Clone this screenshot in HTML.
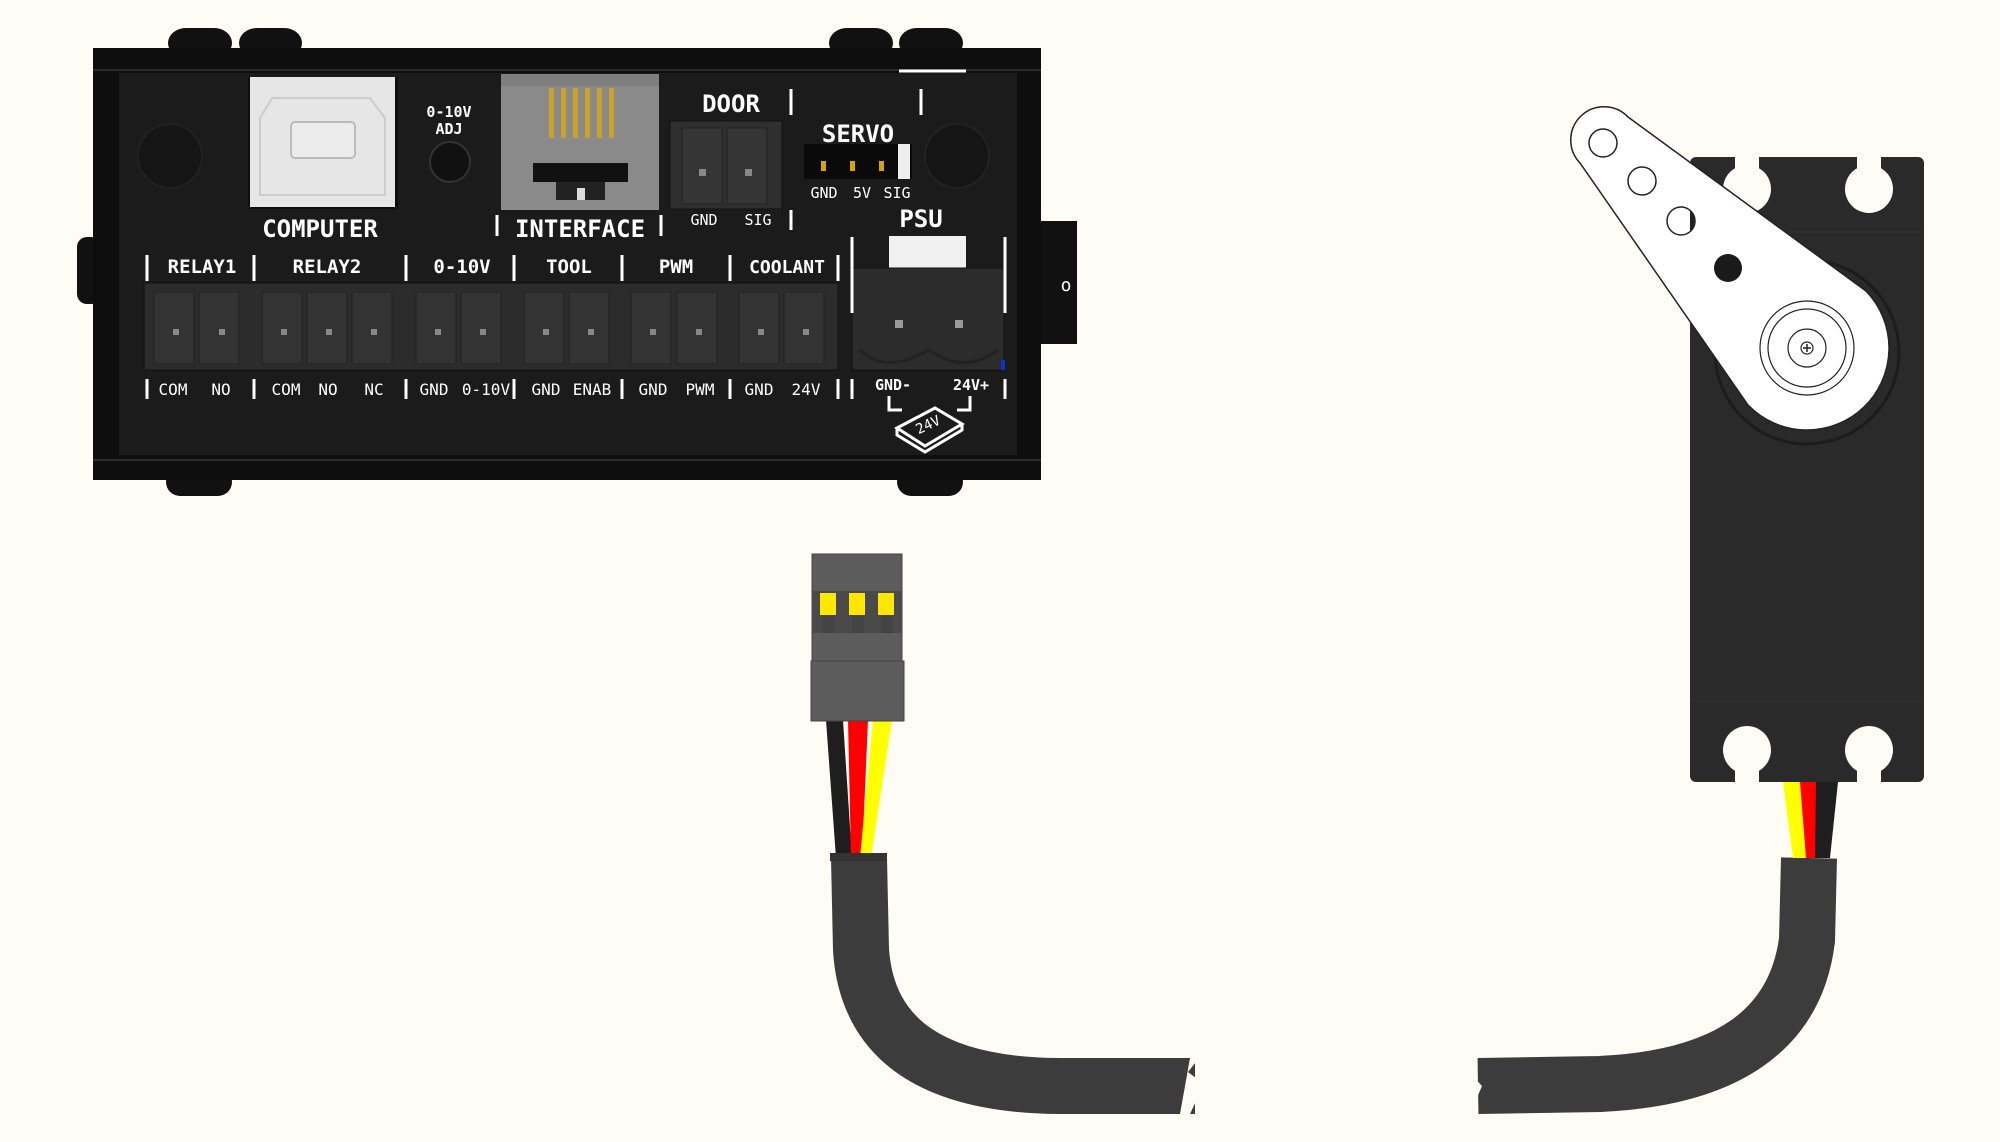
<!DOCTYPE html>
<html><head><meta charset="utf-8"><style>
html,body{margin:0;padding:0;background:#fffcf6;}
svg{display:block}
text{font-family:"DejaVu Sans Mono","Liberation Mono",monospace;fill:#fff;text-anchor:middle;}
</style></head><body>
<svg width="2000" height="1142" viewBox="0 0 2000 1142" xmlns="http://www.w3.org/2000/svg">
<rect width="2000" height="1142" fill="#fffcf6"/>
<g fill="#111">
<rect x="168" y="28" width="64" height="30" rx="18"/><rect x="239" y="28" width="63" height="30" rx="18"/>
<rect x="829" y="28" width="64" height="30" rx="18"/><rect x="899" y="28" width="64" height="30" rx="18"/>
<rect x="166" y="468" width="66" height="28" rx="14"/><rect x="897" y="468" width="66" height="28" rx="14"/>
<rect x="77" y="237" width="24" height="67" rx="10"/>
<rect x="1035" y="221" width="42" height="123"/>
</g>
<text x="1066" y="291" font-size="18">o</text>
<rect x="93" y="48" width="948" height="432" fill="#0e0e0e"/>
<rect x="119" y="73" width="898" height="382" fill="#1b1b1b"/>
<line x1="93" y1="70" x2="1041" y2="70" stroke="#2a2a2a" stroke-width="2"/>
<line x1="93" y1="460" x2="1041" y2="460" stroke="#2a2a2a" stroke-width="2"/>
<circle cx="170" cy="156" r="32" fill="#151515" stroke="#222" stroke-width="2"/>
<circle cx="957" cy="156" r="32" fill="#151515" stroke="#222" stroke-width="2"/>
<line x1="899" y1="71" x2="966" y2="71" stroke="#fff" stroke-width="3"/>
<rect x="248" y="77" width="150" height="132" fill="#0e0e0e"/>
<rect x="250" y="77" width="145" height="130" fill="#e6e6e6"/>
<path d="M272 98 L370 98 L385 118 L385 195 L260 195 L260 118 Z" fill="none" stroke="#ccc" stroke-width="2"/>
<rect x="291" y="122" width="64" height="36" rx="4" fill="#ececec" stroke="#bbb" stroke-width="2"/>
<text x="320" y="237" font-size="24" font-weight="bold">COMPUTER</text>
<text x="449" y="117" font-size="15" font-weight="bold">0-10V</text>
<text x="449" y="134" font-size="15" font-weight="bold">ADJ</text>
<circle cx="450" cy="162" r="20" fill="#111" stroke="#333" stroke-width="2"/>
<rect x="501" y="74" width="158" height="136" fill="#8a8a8a"/>
<rect x="501" y="74" width="158" height="12" fill="#7e7e7e"/>
<g fill="#c9a227"><rect x="549" y="88" width="5" height="50"/><rect x="561" y="88" width="5" height="50"/><rect x="573" y="88" width="5" height="50"/><rect x="585" y="88" width="5" height="50"/><rect x="597" y="88" width="5" height="50"/><rect x="609" y="88" width="5" height="50"/></g>
<rect x="533" y="163" width="95" height="19" fill="#111"/>
<rect x="556" y="182" width="49" height="18" fill="#222"/>
<rect x="577" y="188" width="8" height="12" fill="#ddd"/>
<text x="580" y="237" font-size="24" font-weight="bold">INTERFACE</text>
<g stroke="#fff" stroke-width="3"><line x1="497" y1="215" x2="497" y2="236"/><line x1="661" y1="215" x2="661" y2="236"/></g>
<text x="731" y="112" font-size="24" font-weight="bold">DOOR</text>
<rect x="670" y="121" width="112" height="88" fill="#2f2f2f" stroke="#111"/>
<rect x="682" y="128" width="40" height="76" fill="#353535" stroke="#222"/><rect x="727" y="128" width="40" height="76" fill="#353535" stroke="#222"/>
<rect x="699" y="169" width="7" height="7" fill="#888"/><rect x="745" y="169" width="7" height="7" fill="#888"/>
<text x="704" y="225" font-size="15">GND</text><text x="758" y="225" font-size="15">SIG</text>
<g stroke="#fff" stroke-width="3"><line x1="791" y1="89" x2="791" y2="115"/><line x1="791" y1="210" x2="791" y2="230"/><line x1="921" y1="89" x2="921" y2="115"/></g>
<text x="858" y="142" font-size="24" font-weight="bold">SERVO</text>
<rect x="804" y="144" width="108" height="35" fill="#0a0a0a"/>
<rect x="898" y="144" width="12" height="35" fill="#eee"/>
<g fill="#d9a400"><rect x="821" y="161" width="5" height="10"/><rect x="850" y="161" width="5" height="10"/><rect x="879" y="161" width="5" height="10"/></g>
<text x="824" y="198" font-size="15">GND</text><text x="862" y="198" font-size="15">5V</text><text x="897" y="198" font-size="15">SIG</text>
<text x="921" y="227" font-size="24" font-weight="bold">PSU</text>
<rect x="889" y="236" width="77" height="32" fill="#f0f0f0"/>
<rect x="852" y="268" width="152" height="102" fill="#2c2c2c" stroke="#111"/>
<path d="M860 350 Q885 375 929 350 Q965 375 998 350" fill="none" stroke="#222" stroke-width="3"/>
<rect x="895" y="320" width="8" height="8" fill="#999"/><rect x="955" y="320" width="8" height="8" fill="#999"/>
<rect x="1001" y="360" width="4" height="10" fill="#1030d0"/>
<g stroke="#fff" stroke-width="3"><line x1="852" y1="237" x2="852" y2="313"/><line x1="1005" y1="237" x2="1005" y2="313"/><line x1="852" y1="379" x2="852" y2="399"/><line x1="1005" y1="379" x2="1005" y2="399"/></g>
<text x="893" y="390" font-size="15" font-weight="bold">GND-</text><text x="971" y="390" font-size="15" font-weight="bold">24V+</text>
<g stroke="#fff" stroke-width="3" fill="none"><path d="M889 396 V410 H902"/><path d="M970 396 V410 H957"/>
<path d="M897 428 L935 408 L962 424 L925 446 Z"/><path d="M897 428 V435 L925 452 L962 430 V424"/></g>
<text x="930" y="429" font-size="14" transform="rotate(-25 930 429)">24V</text>
<rect x="144" y="283" width="694" height="87" fill="#2c2c2c" stroke="#111"/>
<g fill="#333" stroke="#222">
<rect x="154" y="292" width="40" height="72"/><rect x="199" y="292" width="40" height="72"/>
<rect x="262" y="292" width="40" height="72"/><rect x="307" y="292" width="40" height="72"/><rect x="352" y="292" width="40" height="72"/>
<rect x="416" y="292" width="40" height="72"/><rect x="461" y="292" width="40" height="72"/>
<rect x="524" y="292" width="40" height="72"/><rect x="569" y="292" width="40" height="72"/>
<rect x="631" y="292" width="40" height="72"/><rect x="677" y="292" width="40" height="72"/>
<rect x="739" y="292" width="40" height="72"/><rect x="784" y="292" width="40" height="72"/>
</g>
<g fill="#888"><rect x="173" y="329" width="6" height="6"/><rect x="219" y="329" width="6" height="6"/><rect x="281" y="329" width="6" height="6"/><rect x="326" y="329" width="6" height="6"/><rect x="371" y="329" width="6" height="6"/><rect x="435" y="329" width="6" height="6"/><rect x="480" y="329" width="6" height="6"/><rect x="543" y="329" width="6" height="6"/><rect x="588" y="329" width="6" height="6"/><rect x="650" y="329" width="6" height="6"/><rect x="696" y="329" width="6" height="6"/><rect x="758" y="329" width="6" height="6"/><rect x="803" y="329" width="6" height="6"/></g>
<g stroke="#fff" stroke-width="3">
<line x1="147" y1="255" x2="147" y2="281"/><line x1="254" y1="255" x2="254" y2="281"/><line x1="406" y1="255" x2="406" y2="281"/><line x1="514" y1="255" x2="514" y2="281"/><line x1="622" y1="255" x2="622" y2="281"/><line x1="730" y1="255" x2="730" y2="281"/><line x1="838" y1="255" x2="838" y2="281"/>
<line x1="147" y1="379" x2="147" y2="399"/><line x1="254" y1="379" x2="254" y2="399"/><line x1="406" y1="379" x2="406" y2="399"/><line x1="514" y1="379" x2="514" y2="399"/><line x1="622" y1="379" x2="622" y2="399"/><line x1="730" y1="379" x2="730" y2="399"/><line x1="838" y1="379" x2="838" y2="399"/>
</g>
<g font-size="19" font-weight="bold"><text x="202" y="273">RELAY1</text><text x="327" y="273">RELAY2</text><text x="462" y="273">0-10V</text><text x="569" y="273">TOOL</text><text x="676" y="273">PWM</text><text x="787" y="273" font-size="18">COOLANT</text></g>
<g font-size="16"><text x="173" y="395">COM</text><text x="221" y="395">NO</text><text x="286" y="395">COM</text><text x="328" y="395">NO</text><text x="374" y="395">NC</text><text x="434" y="395">GND</text><text x="486" y="395">0-10V</text><text x="546" y="395">GND</text><text x="592" y="395">ENAB</text><text x="653" y="395">GND</text><text x="700" y="395">PWM</text><text x="759" y="395">GND</text><text x="806" y="395">24V</text></g>

<path d="M859 858 L861 950 Q870 1085 1060 1086 L1195 1086" fill="none" stroke="#3c3c3c" stroke-width="56"/>
<path d="M1190 1058 L1199 1058 L1188 1072 L1204 1084 L1190 1114 L1180 1114 Z" fill="#fffcf6"/>
<polygon points="826,720 843,720 852,858 836,858" fill="#1e1e1e"/>
<polygon points="848,720 868,720 862,858 851,858" fill="#f00"/>
<polygon points="873,720 892,720 871,858 860,858" fill="#ff0"/>
<rect x="830" y="853" width="57" height="8" fill="#333"/>
<rect x="812" y="554" width="90" height="107" fill="#5c5c5c" stroke="#444"/>
<rect x="812" y="591" width="90" height="42" fill="#4a4a4a"/>
<g fill="#ffe600"><rect x="820" y="593" width="16" height="22"/><rect x="849" y="593" width="16" height="22"/><rect x="878" y="593" width="16" height="22"/></g>
<g fill="#444"><rect x="823" y="615" width="12" height="18"/><rect x="852" y="615" width="12" height="18"/><rect x="881" y="615" width="12" height="18"/></g>
<rect x="811" y="661" width="93" height="60" fill="#5c5c5c" stroke="#444"/>

<path d="M1809 858 L1807 940 Q1790 1075 1600 1084 L1478 1086" fill="none" stroke="#3c3c3c" stroke-width="56"/>
<path d="M1465 1058 L1478 1058 L1469 1072 L1482 1086 L1470 1114 L1460 1114 Z" fill="#fffcf6"/>
<polygon points="1783,782 1800,782 1808,858 1793,858" fill="#ff0"/>
<polygon points="1800,782 1816,782 1817,858 1806,858" fill="#f00"/>
<polygon points="1816,782 1838,782 1830,858 1815,858" fill="#1e1e1e"/>
<rect x="1690" y="157" width="234" height="625" rx="6" fill="#2a2a2a"/>
<g fill="#fffcf6">
<circle cx="1747" cy="189" r="24"/><rect x="1735" y="155" width="24" height="34"/>
<circle cx="1869" cy="189" r="24"/><rect x="1857" y="155" width="24" height="34"/>
<circle cx="1747" cy="750" r="24"/><rect x="1735" y="750" width="24" height="34"/>
<circle cx="1869" cy="750" r="24"/><rect x="1857" y="750" width="24" height="34"/>
</g>
<line x1="1690" y1="232" x2="1924" y2="232" stroke="#333"/>
<line x1="1690" y1="701" x2="1924" y2="701" stroke="#333"/>
<circle cx="1807" cy="352" r="92" fill="none" stroke="#1c1c1c" stroke-width="3"/>
<path d="M1628 117 L1866 291 A82 82 0 1 1 1748 405 L1580 163 A33 33 0 0 1 1628 117 Z" fill="#fff" stroke="#222" stroke-width="1.5"/>
<circle cx="1603" cy="143" r="14" fill="#fff" stroke="#222" stroke-width="1.5"/>
<circle cx="1642" cy="181" r="14" fill="#fff" stroke="#222" stroke-width="1.5"/>
<circle cx="1681" cy="221" r="14" fill="#fff" stroke="#222" stroke-width="1.5"/>
<path d="M1690 210 A14 14 0 0 1 1690 232 Z" fill="#222"/>
<circle cx="1728" cy="268" r="14" fill="#1a1a1a"/>
<g fill="none" stroke="#222" stroke-width="1.2"><circle cx="1807" cy="348" r="47"/><circle cx="1807" cy="348" r="39"/><circle cx="1807" cy="348" r="19"/><circle cx="1807" cy="348" r="6"/></g>
<path d="M1803 348 H1811 M1807 344 V352" stroke="#222" stroke-width="1.5"/>
</svg>
</body></html>
